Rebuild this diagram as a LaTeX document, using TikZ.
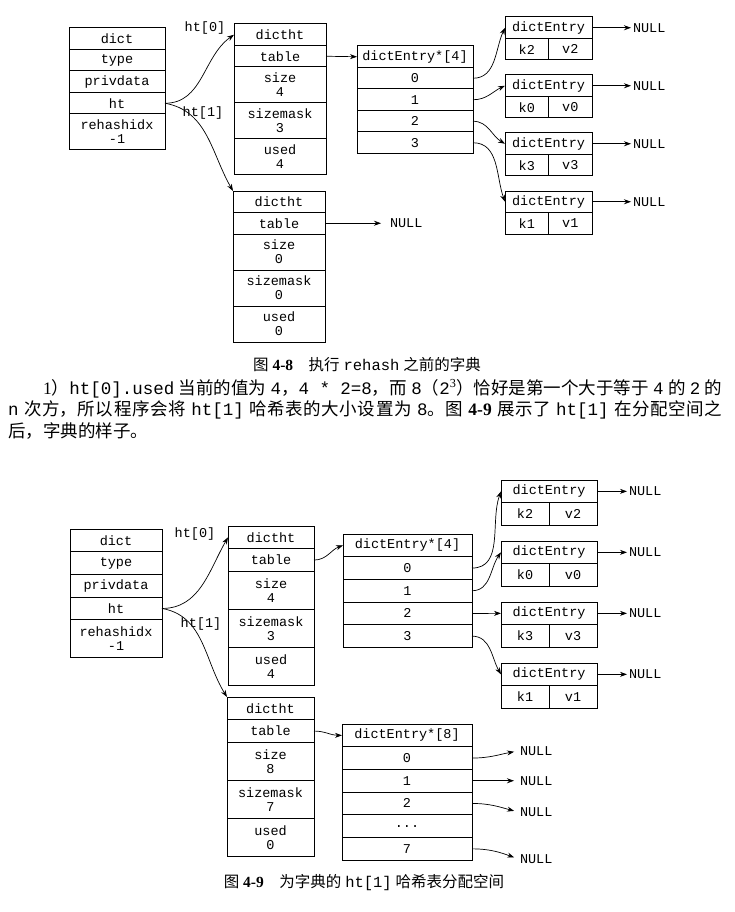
\documentclass[tikz,border=0pt]{standalone}
\usepackage{fontspec}
\setmainfont{Liberation Serif}
\newfontfamily\cjkfont{Noto Sans CJK SC}
\newfontfamily\monofont{Liberation Mono}
\usetikzlibrary{positioning,arrows.meta}
\XeTeXlinebreaklocale "zh"
\XeTeXlinebreakskip = 0pt plus 1.5pt

\newcommand{\zh}[1]{{\cjkfont #1}}
\newcommand{\cd}[1]{{\monofont #1}}
\newcommand{\cellfont}{\monofont\fontsize{13.5}{14}\selectfont}

\tikzset{
  cell/.style={draw, line width=1pt, outer sep=0pt, inner sep=0pt,
    font=\cellfont, align=center, minimum height=21.5pt},
  tall/.style={cell, minimum height=36pt},
  link/.style={-{Stealth[length=7pt, width=5pt]}, line width=0.7pt},
  nul/.style={font=\cellfont, inner sep=0pt, outer sep=2pt},
  lbl/.style={font=\cellfont, inner sep=0pt},
  figcap/.style={font=\fontsize{15.5}{18}\selectfont, inner sep=0pt},
}

\begin{document}
\begin{tikzpicture}[x=1pt, y=-1pt]
 \useasboundingbox (0,0) rectangle (735,912);

 % figure 4-8
 \node[cell, minimum width=96pt, anchor=north west] (dA1) at (69,28) {dict};
 \node[cell, minimum width=96pt, below=0pt of dA1] (dA2) {type};
 \node[cell, minimum width=96pt, below=0pt of dA2] (dA3) {privdata};
 \node[cell, minimum width=96pt, below=0pt of dA3] (dA4) {ht};
 \node[tall, minimum width=96pt, below=0pt of dA4] (dA5) {rehashidx\\-1};

 \node[cell, minimum width=92pt, anchor=north west] (hA1) at (234,24) {dictht};
 \node[cell, minimum width=92pt, below=0pt of hA1] (hA2) {table};
 \node[tall, minimum width=92pt, below=0pt of hA2] (hA3) {size\\4};
 \node[tall, minimum width=92pt, below=0pt of hA3] (hA4) {sizemask\\3};
 \node[tall, minimum width=92pt, below=0pt of hA4] (hA5) {used\\4};

 \node[cell, minimum width=92pt, anchor=north west] (gA1) at (233,191) {dictht};
 \node[cell, minimum width=92pt, below=0pt of gA1] (gA2) {table};
 \node[tall, minimum width=92pt, below=0pt of gA2] (gA3) {size\\0};
 \node[tall, minimum width=92pt, below=0pt of gA3] (gA4) {sizemask\\0};
 \node[tall, minimum width=92pt, below=0pt of gA4] (gA5) {used\\0};

 \node[cell, minimum width=116pt, anchor=north west] (sAh) at (357,46) {dictEntry*[4]};
 \foreach \i [remember=\i as \j (initially h)] in {0,...,3}
   \node[cell, minimum width=116pt, below=0pt of sA\j] (sA\i) {\i};

 \foreach \k/\t/\n in {2/17/0, 0/75/1, 3/133/2, 1/191/3}{
   \node[cell, minimum width=87pt, anchor=north west] (eA\n) at (505,\t) {dictEntry};
   \node[cell, minimum width=43.5pt, anchor=north west] (kA\n) at (eA\n.south west) {k\k};
   \node[cell, minimum width=43.5pt, anchor=north east] (vA\n) at (eA\n.south east) {v\k};
   \node[nul, right=39pt of eA\n, anchor=west] (nA\n) {NULL};
   \draw[link] (eA\n.east) -- (nA\n.west);
 }

 \node[lbl] (htA0) at (205,28) {ht[0]};
 \node[lbl] (htA1) at (203,113) {ht[1]};
 \draw[link] (dA4.east) to[out=0, in=215] (hA1.west);
 \draw[link] (dA4.east) to[out=-10, in=120] (gA1.north west);
 \draw[link] (hA2.east) -- (sAh.west);
 \draw[link] (sA0.east) to[out=0, in=245] (eA0.west);
 \draw[link] (sA1.east) to[out=0, in=205] (eA1.west);
 \draw[link] (sA2.east) to[out=0, in=150] (eA2.west);
 \draw[link] (sA3.east) to[out=0, in=110] (eA3.west);
 \node[nul, right=63pt of gA2, anchor=west] (nA4) {NULL};
 \draw[link, shorten >=7pt] (gA2.east) -- (nA4.west);

 \node[figcap] (capA) at (367,365) {\zh{图} \textbf{4-8}\hspace{1em}\zh{执行} \cd{rehash} \zh{之前的字典}};

 \node[anchor=north west, text width=714pt, align=justify, inner sep=0pt,
   font=\fontsize{17.5}{21.5}\selectfont] (body) at (8,379) {%
   \hspace*{35pt}1\zh{）}\cd{ht[0].used} \zh{当前的值为} \cd{4}\zh{，}\cd{4 * 2=8}\zh{，而} \cd{8}\zh{（}\cd{2}\textsuperscript{3}\zh{）恰好是第一个大于等于} \cd{4} \zh{的} \cd{2} \zh{的}\linebreak
   \cd{n} \zh{次方，所以程序会将} \cd{ht[1]} \zh{哈希表的大小设置为} \cd{8}\zh{。图} \textbf{4-9} \zh{展示了} \cd{ht[1]} \zh{在分配空间之}\linebreak
   \zh{后，字典的样子。}};

 % figure 4-9
 \begin{scope}[cell/.append style={minimum height=22.7pt}, tall/.append style={minimum height=38pt}]
 \node[cell, minimum width=92pt, anchor=north west] (dB1) at (70,529) {dict};
 \node[cell, minimum width=92pt, below=0pt of dB1] (dB2) {type};
 \node[cell, minimum width=92pt, below=0pt of dB2] (dB3) {privdata};
 \node[cell, minimum width=92pt, below=0pt of dB3] (dB4) {ht};
 \node[tall, minimum width=92pt, below=0pt of dB4] (dB5) {rehashidx\\-1};

 \node[cell, minimum width=86pt, anchor=north west] (hB1) at (228,526) {dictht};
 \node[cell, minimum width=86pt, below=0pt of hB1] (hB2) {table};
 \node[tall, minimum width=86pt, below=0pt of hB2] (hB3) {size\\4};
 \node[tall, minimum width=86pt, below=0pt of hB3] (hB4) {sizemask\\3};
 \node[tall, minimum width=86pt, below=0pt of hB4] (hB5) {used\\4};

 \node[cell, minimum width=87pt, anchor=north west] (gB1) at (227,697) {dictht};
 \node[cell, minimum width=87pt, below=0pt of gB1] (gB2) {table};
 \node[tall, minimum width=87pt, below=0pt of gB2] (gB3) {size\\8};
 \node[tall, minimum width=87pt, below=0pt of gB3] (gB4) {sizemask\\7};
 \node[tall, minimum width=87pt, below=0pt of gB4] (gB5) {used\\0};

 \node[cell, minimum width=129pt, anchor=north west] (sBh) at (343,534) {dictEntry*[4]};
 \foreach \i [remember=\i as \j (initially h)] in {0,...,3}
   \node[cell, minimum width=129pt, below=0pt of sB\j] (sB\i) {\i};

 \foreach \k/\t/\n in {2/480/0, 0/541/1, 3/602/2, 1/663/3}{
   \node[cell, minimum width=96pt, anchor=north west] (eB\n) at (501,\t) {dictEntry};
   \node[cell, minimum width=48pt, anchor=north west] (kB\n) at (eB\n.south west) {k\k};
   \node[cell, minimum width=48pt, anchor=north east] (vB\n) at (eB\n.south east) {v\k};
   \node[nul, right=30pt of eB\n, anchor=west] (nB\n) {NULL};
   \draw[link] (eB\n.east) -- (nB\n.west);
 }

 \node[cell, minimum width=130pt, anchor=north west] (tBh) at (342,724) {dictEntry*[8]};
 \node[cell, minimum width=130pt, below=0pt of tBh] (tB0) {0};
 \node[cell, minimum width=130pt, below=0pt of tB0] (tB1) {1};
 \node[cell, minimum width=130pt, below=0pt of tB1] (tB2) {2};
 \node[cell, minimum width=130pt, below=0pt of tB2] (tB3) {...};
 \node[cell, minimum width=130pt, below=0pt of tB3] (tB4) {7};
 \end{scope}

 \node[lbl] (htB0) at (195,534) {ht[0]};
 \node[lbl] (htB1) at (201,624) {ht[1]};
 \draw[link] (dB4.east) to[out=0, in=240] (hB1.west);
 \draw[link] (dB4.east) to[out=-10, in=122] (gB1.north west);
 \draw[link] (hB2.east) to[out=0, in=200] (sBh.west);
 \draw[link] (sB0.east) to[out=0, in=250] (eB0.west);
 \draw[link] (sB1.east) to[out=0, in=235] (eB1.west);
 \draw[link] (sB2.east) -- (eB2.west);
 \draw[link] (sB3.east) to[out=0, in=120] (eB3.west);
 \draw[link] (gB2.east) to[out=0, in=180] (tBh.west);

 \node[nul, right=46pt of tB0, anchor=west, yshift=7pt] (mB0) {NULL};
 \node[nul, right=46pt of tB1, anchor=west] (mB1) {NULL};
 \node[nul, right=46pt of tB2, anchor=west, yshift=-8.5pt] (mB2) {NULL};
 \node[nul, right=46pt of tB4, anchor=west, yshift=-10pt] (mB4) {NULL};
 \draw[link, shorten >=4pt] (tB0.east) to[out=0, in=190] (mB0.west);
 \draw[link, shorten >=4pt] (tB1.east) -- (mB1.west);
 \draw[link, shorten >=4pt] (tB2.east) to[out=0, in=165] (mB2.west);
 \draw[link, shorten >=4pt] (tB4.east) to[out=0, in=160] (mB4.west);

 \node[figcap] (capB) at (364,883) {\zh{图} \textbf{4-9}\hspace{1em}\zh{为字典的} \cd{ht[1]} \zh{哈希表分配空间}};
\end{tikzpicture}
\end{document}
